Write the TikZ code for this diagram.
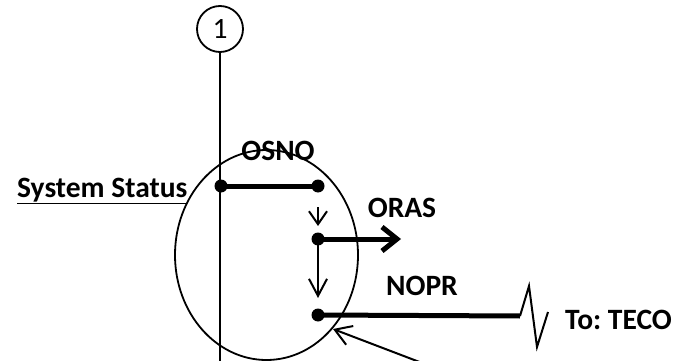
\documentclass[tikz,border=0pt]{standalone}
\usepackage{fontspec}
\setmainfont{Carlito}
\usetikzlibrary{arrows.meta,shapes.geometric}
\frenchspacing
\begin{document}
\begin{tikzpicture}[x=1pt,y=-1pt,
  lab/.style={font=\fontsize{29.5}{34}\selectfont\bfseries, inner sep=0pt},
  dot/.style={circle, fill=black, inner sep=0pt, minimum size=13pt},
  ln/.style={line width=2pt},
  thk/.style={line width=5pt}]
\useasboundingbox (0,0) rectangle (675,361);
% top marker and vertical line
\node[draw, circle, line width=1.8pt, minimum size=46pt, inner sep=0pt,
      font=\fontsize{29.5}{34}\selectfont] (c1) at (220,29) {1};
\coordinate (vb) at (220,366);
\draw[ln] (c1.south) -- (vb);
% ellipse
\node[draw, ellipse, line width=1.8pt, minimum width=183pt, minimum height=210pt, inner sep=0pt] (el) at (266.5,255) {};
% dots
\node[dot] (d1) at (221,186) {};
\node[dot] (d2) at (318,186) {};
\node[dot] (d3) at (318,239) {};
\node[dot] (d4) at (318,315) {};
% connectors
\draw[thk] (d1.center) -- (d2.center);
\coordinate (a1s) at (318,207);
\coordinate (a1e) at (318,226);
\draw[ln,-{Straight Barb[length=13pt,width=18pt]}] (a1s) -- (a1e);
\coordinate (a2e) at (318,298);
\draw[ln,-{Straight Barb[length=17pt,width=18pt]}] (d3.center) -- (a2e);
\coordinate (oe) at (401,239);
\draw[thk,-{Straight Barb[length=15pt,width=24pt]}] (d3.center) -- (oe);
% NOPR line with break
\coordinate (z0) at (520,316);
\coordinate (z1) at (529,286);
\coordinate (z2) at (537,347);
\coordinate (z3) at (548,312);
\draw[thk] (d4.center) -- (z0);
\draw[ln, line join=miter] (z0) -- (z1) -- (z2) -- (z3);
% pointer
\coordinate (p0) at (430,366);
\coordinate (p1) at (333,329);
\draw[ln,-{Straight Barb[length=16pt,width=20pt]}] (p0) -- (p1);
% labels
\node[lab, anchor=base west] (ss) at (17,197) {\underline{System Status}};
\node[lab] (osno) at (278,151) {OSNO};
\node[lab] (oras) at (402,208) {ORAS};
\node[lab] (nopr) at (422,286) {NOPR};
\node[lab, anchor=west] (teco) at (565,320) {To: TECO};
\end{tikzpicture}
\end{document}
